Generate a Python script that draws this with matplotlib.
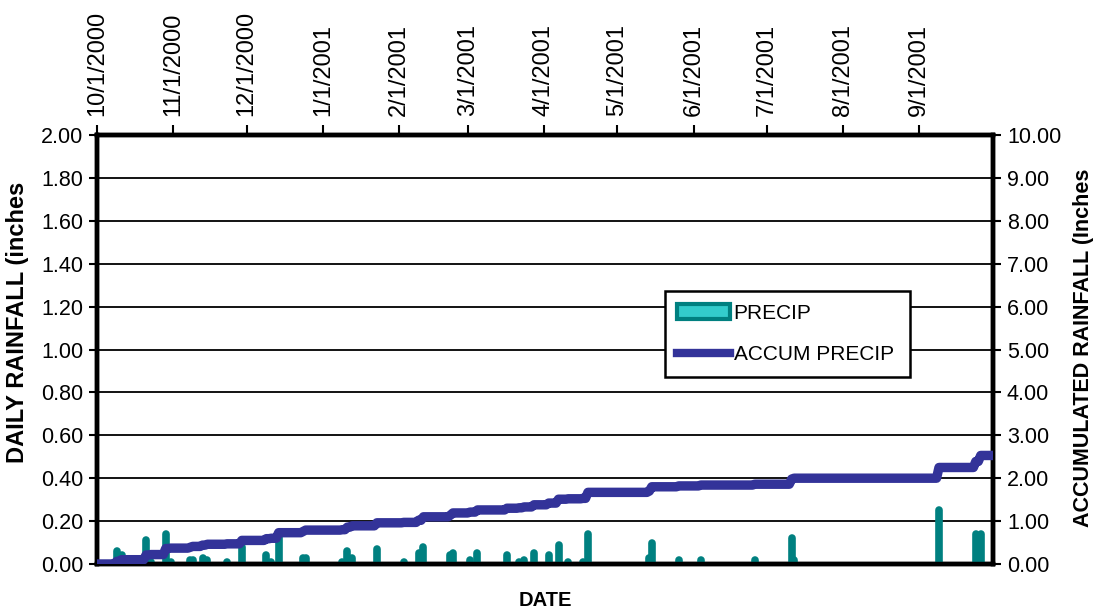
import numpy as np
import pandas as pd
import matplotlib
matplotlib.use("Agg")
import matplotlib.pyplot as plt
import matplotlib.dates as mdates
from matplotlib.patches import Patch
from matplotlib.lines import Line2D

plt.rcParams['font.family'] = ['Liberation Sans', 'DejaVu Sans']

# ---- data ----
start_date = "2000-10-01"
end_date = "2001-09-30"
rain_dates = ["2000-10-09", "2000-10-11", "2000-10-21", "2000-10-23", "2000-10-29",
              "2000-10-31", "2000-11-08", "2000-11-09", "2000-11-13", "2000-11-15",
              "2000-11-23", "2000-11-29", "2000-12-09", "2000-12-11", "2000-12-14",
              "2000-12-24", "2000-12-25", "2001-01-09", "2001-01-11", "2001-01-13",
              "2001-01-23", "2001-02-03", "2001-02-09", "2001-02-11", "2001-02-22",
              "2001-02-23", "2001-03-02", "2001-03-05", "2001-03-17", "2001-03-22",
              "2001-03-24", "2001-03-28", "2001-04-03", "2001-04-07", "2001-04-11",
              "2001-04-17", "2001-04-19", "2001-05-14", "2001-05-15", "2001-05-26",
              "2001-06-04", "2001-06-26", "2001-07-11", "2001-07-12", "2001-09-09",
              "2001-09-24", "2001-09-26"]
rain_values = [0.06, 0.04, 0.11, 0.01, 0.14,
               0.01, 0.02, 0.02, 0.03, 0.02,
               0.01, 0.08, 0.04, 0.01, 0.13,
               0.03, 0.03, 0.01, 0.06, 0.03,
               0.07, 0.01, 0.05, 0.08, 0.04,
               0.05, 0.02, 0.05, 0.04, 0.01,
               0.02, 0.05, 0.04, 0.09, 0.01,
               0.01, 0.14, 0.03, 0.10, 0.02,
               0.02, 0.02, 0.12, 0.02, 0.25,
               0.14, 0.14]
month_ticks = ["2000-10-01", "2000-11-01", "2000-12-01", "2001-01-01", "2001-02-01",
               "2001-03-01", "2001-04-01", "2001-05-01", "2001-06-01", "2001-07-01",
               "2001-08-01", "2001-09-01"]
month_labels = ["10/1/2000", "11/1/2000", "12/1/2000", "1/1/2001", "2/1/2001",
                "3/1/2001", "4/1/2001", "5/1/2001", "6/1/2001", "7/1/2001",
                "8/1/2001", "9/1/2001"]

days = pd.date_range(start_date, end_date, freq="D")
daily = pd.Series(0.0, index=days)
daily.loc[pd.to_datetime(rain_dates)] = rain_values
accum = daily.cumsum()

# ---- figure ----
W, H = 1095, 613
fig = plt.figure(figsize=(W / 100, H / 100), dpi=100)
ax = fig.add_axes([97 / W, 1 - 564 / H, (993 - 97) / W, (564 - 135) / H])
ax2 = ax.twinx()

teal = "#008080"
navy = "#333399"

ax.set_ylim(0, 2.0)
ax2.set_ylim(0, 10.0)
x0 = mdates.date2num(pd.Timestamp("2000-10-01"))
x1 = mdates.date2num(pd.Timestamp("2001-10-01"))
ax.set_xlim(x0, x1)

# gridlines
ax.set_yticks(np.arange(0, 2.01, 0.2))
ax.yaxis.grid(True, color="black", linewidth=1.3)
ax.set_axisbelow(True)

# bars
rx = mdates.date2num(pd.to_datetime(rain_dates))
ax.vlines(rx, 0, rain_values, colors=teal, linewidth=5.5, capstyle="round", zorder=3)

# accumulated line on secondary axis
ax2.plot(mdates.date2num(days), accum.values, color=navy, linewidth=6.8, zorder=4,
         solid_joinstyle="round")
ax2.set_zorder(ax.get_zorder() + 1)
ax2.patch.set_visible(False)

# x ticks on top
ax.xaxis.tick_top()
ax.set_xticks(mdates.date2num(pd.to_datetime(month_ticks)))
ax.set_xticklabels(month_labels, rotation=90, fontsize=17)
ax.tick_params(axis="x", which="both", direction="out", length=7, width=1.5, pad=7)
ax.tick_params(axis="y", direction="out", length=6, width=1.5, labelsize=15.5, pad=4)
ax.set_yticklabels([f"{v:.2f}" for v in np.arange(0, 2.01, 0.2)])

ax2.set_yticks(np.arange(0, 10.01, 1.0))
ax2.set_yticklabels([f"{v:.2f}" for v in np.arange(0, 10.01, 1.0)])
ax2.tick_params(axis="y", direction="out", length=6, width=1.5, labelsize=15.5, pad=4)

for a in (ax, ax2):
    for s in a.spines.values():
        s.set_linewidth(3.2)
        s.set_color("black")

# axis titles
fig.text(18 / W, 1 - 322 / H, "DAILY RAINFALL (inches", rotation=90, ha="center",
         va="center", fontsize=17, fontweight="bold")
fig.text(1083 / W, 1 - 348 / H, "ACCUMULATED RAINFALL (Inches", rotation=90, ha="center",
         va="center", fontsize=15.5, fontweight="bold")
fig.text(545 / W, 1 - 601 / H, "DATE", ha="center", va="center", fontsize=14.5,
         fontweight="bold")

# legend
handles = [Patch(facecolor="#33CCCC", edgecolor=teal, linewidth=3),
           Line2D([0], [0], color=navy, linewidth=6)]
leg = ax2.legend(handles, ["PRECIP", "ACCUM PRECIP"], loc="lower left",
                 bbox_to_anchor=((665 - 97) / 896, (564 - 377) / 429,
                                 (910 - 665) / 896, (377 - 283) / 429),
                 mode="expand", borderaxespad=0, fontsize=15, fancybox=False,
                 framealpha=1, edgecolor="black", handlelength=2.5, handleheight=0.75,
                 handletextpad=0.2, labelspacing=1.1, borderpad=0.6)
leg.get_frame().set_linewidth(1.8)

fig.savefig("out.png", dpi=100)
